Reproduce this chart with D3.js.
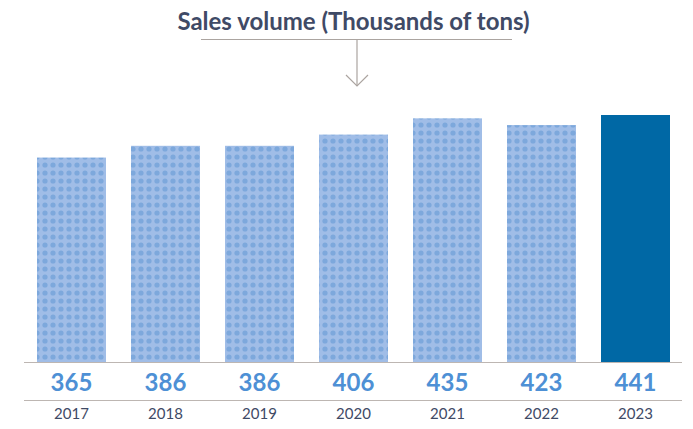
<!DOCTYPE html>
<html>
<head>
<meta charset="utf-8">
<script src="https://cdn.jsdelivr.net/npm/d3@7"></script>
<style>
  html, body { margin: 0; padding: 0; background: #fff; }
  svg { display: block; font-family: Lato, "Open Sans", sans-serif; }
</style>
</head>
<body>
<svg id="chart" width="693" height="429"></svg>
<script>
const years = ["2017", "2018", "2019", "2020", "2021", "2022", "2023"];
const volumes = [365, 386, 386, 406, 435, 423, 441];
const titleText = "Sales volume (Thousands of tons)";

const svg = d3.select("#chart");
const defs = svg.append("defs");
const pat = defs.append("pattern")
  .attr("id", "dots").attr("patternUnits", "userSpaceOnUse")
  .attr("width", 8).attr("height", 8).attr("x", 1).attr("y", 1);
pat.append("rect").attr("width", 8).attr("height", 8).attr("fill", "#A0BDE7");
pat.append("circle").attr("cx", 4).attr("cy", 4).attr("r", 2.6).attr("fill", "#7DA8DC");

const x = d3.scaleBand().domain(years).range([24.5, 682.5]).paddingInner(0.266).paddingOuter(0.133);
const y = d3.scaleLinear().domain([0, 441]).range([362, 115]);

svg.append("g").selectAll("rect").data(years).join("rect")
  .attr("x", d => x(d))
  .attr("width", x.bandwidth())
  .attr("y", (d, i) => y(volumes[i]))
  .attr("height", (d, i) => y(0) - y(volumes[i]))
  .attr("fill", (d, i) => i === years.length - 1 ? "#0068A5" : "url(#dots)");

// lines
svg.append("line").attr("x1", 24).attr("x2", 682).attr("y1", 362.5).attr("y2", 362.5)
  .attr("stroke", "#BDB6B2").attr("stroke-width", 1.2);
svg.append("line").attr("x1", 24).attr("x2", 682).attr("y1", 400.5).attr("y2", 400.5)
  .attr("stroke", "#BDB6B2").attr("stroke-width", 1.2);

// value labels
svg.append("g").selectAll("text").data(years).join("text")
  .attr("x", d => x(d) + x.bandwidth() / 2)
  .attr("y", 391)
  .attr("text-anchor", "middle")
  .attr("font-size", 24).attr("font-weight", 700)
  .attr("fill", "#4E90D5")
  .text((d, i) => volumes[i]);

// year axis labels
const xAxis = d3.axisBottom(x).tickSize(0).tickPadding(0);
const ax = svg.append("g").attr("transform", "translate(0,408)").call(xAxis);
ax.select(".domain").remove();
ax.selectAll("text").attr("font-size", 15).attr("fill", "#3F4A66")
  .attr("font-family", "Lato, sans-serif").attr("dy", "0.71em");

// title
svg.append("text").attr("x", 353.5).attr("y", 30).attr("text-anchor", "middle")
  .attr("font-size", 24).attr("font-weight", 700).attr("fill", "#3F4A66")
  .text(titleText);
svg.append("line").attr("x1", 201).attr("x2", 512).attr("y1", 39.5).attr("y2", 39.5)
  .attr("stroke", "#ABA4A0").attr("stroke-width", 1.2);
svg.append("line").attr("x1", 357).attr("x2", 357).attr("y1", 40).attr("y2", 86)
  .attr("stroke", "#ABA4A0").attr("stroke-width", 1.2);
svg.append("path").attr("d", "M346,75 L357,86 L368,75").attr("fill", "none")
  .attr("stroke", "#ABA4A0").attr("stroke-width", 1.2);
</script>
</body>
</html>
